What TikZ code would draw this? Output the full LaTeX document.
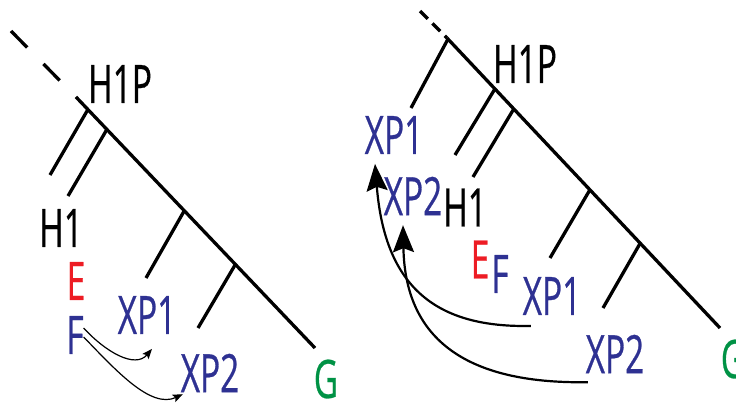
\documentclass[tikz,border=0pt]{standalone}
\usepackage{fontspec}
\setmainfont[FakeStretch=0.63,FakeBold=0.5]{Open Sans}
\usetikzlibrary{arrows.meta,calc}
\definecolor{xblue}{RGB}{46,49,146}
\definecolor{xred}{RGB}{237,28,36}
\definecolor{xgreen}{RGB}{0,146,69}
\begin{document}
\begin{tikzpicture}[x=1pt,y=-1pt,
  tree/.style={line width=3.3pt},
  dashtree/.style={line width=3.3pt},
  lbl/.style={inner sep=0pt, outer sep=0pt, font=\fontsize{53}{53}\selectfont},
  thinarr/.style={line width=1.2pt, -{Stealth[length=10pt,width=8pt,inset=2pt]}},
  thickarr/.style={line width=2.2pt, -{Stealth[length=27pt,width=21pt,inset=4pt]}}]
\useasboundingbox (0,0) rectangle (736,410);
% ---------- left tree ----------
\coordinate (LD) at (11,31);
\coordinate (LS) at (76,97);
\coordinate (LE) at (315,348);
\draw[dashtree, dash pattern=on 23.15pt off 23.15pt] (LD) -- (LS);
\draw[tree] (LS) -- (LE);
\coordinate (Lb1) at (87.9,109.5);  \coordinate (Lb1e) at (50,175);
\coordinate (Lb2) at (106.9,129.4); \coordinate (Lb2e) at (68,196);
\coordinate (Lb3) at (184.3,210.7); \coordinate (Lb3e) at (146,278);
\coordinate (Lb4) at (235.4,264.4); \coordinate (Lb4e) at (198,328);
\draw[tree] (Lb1) -- (Lb1e);
\draw[tree] (Lb2) -- (Lb2e);
\draw[tree] (Lb3) -- (Lb3e);
\draw[tree] (Lb4) -- (Lb4e);
\node[lbl] (LH1P) at (120,84) {H1P};
\node[lbl] (LH1) at (61,228) {H1};
\node[lbl, text=xred] (LE1) at (76,281) {E};
\node[lbl, text=xblue] (LF) at (75,335) {F};
\node[lbl, text=xblue] (LXP1) at (147,315) {XP1};
\node[lbl, text=xblue] (LXP2) at (210,373) {XP2};
\node[lbl, text=xgreen] (LG) at (326,379) {G};
\draw[thinarr] ($(LF.east)+(0,-7)$) .. controls +(22,24) and +(-17,20) .. ($(LXP1.south)+(5,15)$);
\draw[thinarr] ($(LF.east)+(0,2)$) .. controls +(32,33) and +(-32,15) .. ($(LXP2.south west)+(2,2)$);
% ---------- right tree ----------
\coordinate (RD) at (420,11);
\coordinate (RS) at (447,38);
\coordinate (RE) at (720,328);
\draw[dashtree, dash pattern=on 11pt off 6.5pt] (RD) -- (RS);
\draw[tree] (RS) -- (RE);
\coordinate (Rb0) at (448,39);      \coordinate (Rb0e) at (411,108);
\coordinate (Rb1) at (494.9,88.9);  \coordinate (Rb1e) at (455,155);
\coordinate (Rb2) at (513.8,108.9); \coordinate (Rb2e) at (473,177);
\coordinate (Rb3) at (589.9,189.8); \coordinate (Rb3e) at (550,258);
\coordinate (Rb4) at (640.2,243.2); \coordinate (Rb4e) at (603,308);
\draw[tree] (Rb0) -- (Rb0e);
\draw[tree] (Rb1) -- (Rb1e);
\draw[tree] (Rb2) -- (Rb2e);
\draw[tree] (Rb3) -- (Rb3e);
\draw[tree] (Rb4) -- (Rb4e);
\node[lbl] (RH1P) at (525,64) {H1P};
\node[lbl, text=xblue] (RXP1t) at (394,135) {XP1};
\node[lbl, text=xblue] (RXP2t) at (413,196) {XP2};
\node[lbl] (RH1) at (465,207.5) {H1};
\node[lbl, text=xred] (RE1) at (480,259.5) {E};
\node[lbl, text=xblue] (RF) at (500,274) {F};
\node[lbl, text=xblue] (RXP1) at (552,296) {XP1};
\node[lbl, text=xblue] (RXP2) at (615,354) {XP2};
\node[lbl, text=xgreen] (RG) at (733,359) {G};
\draw[thickarr] ($(RXP1.south west)+(8,11)$) .. controls +(-93,2) and +(10,125) .. ($(RXP1t.south)+(-19,10)$);
\draw[thickarr] ($(RXP2.south west)+(2,9)$) .. controls +(-127,2) and +(2,110) .. ($(RXP2t.south)+(-10,10)$);
\end{tikzpicture}
\end{document}
